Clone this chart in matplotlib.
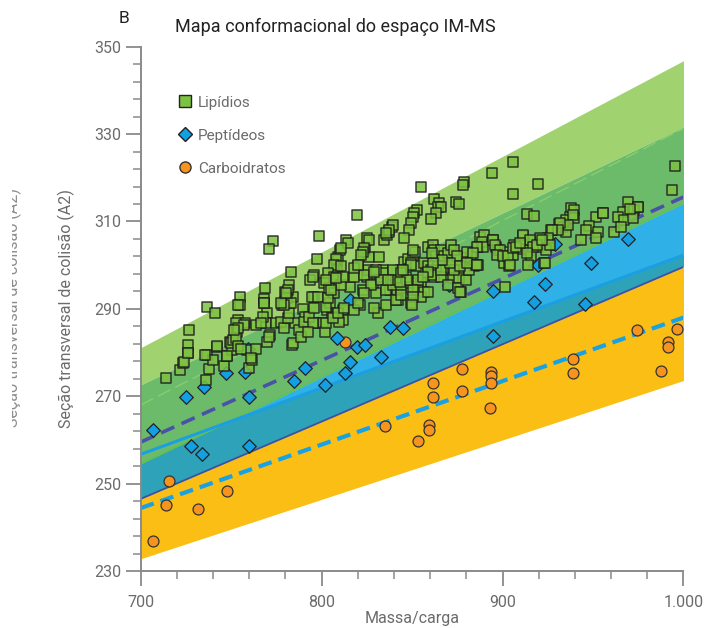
import matplotlib
matplotlib.use("Agg")
import matplotlib.pyplot as plt
from matplotlib.lines import Line2D
from matplotlib.patches import Rectangle
import numpy as np

plt.rcParams["font.family"] = ["Roboto", "DejaVu Sans"]

# ---------------------------------------------------------------------------
# Dados
# ---------------------------------------------------------------------------
lipidios = [
    (773.0, 305.5), (771.1, 303.7), (798.7, 306.7), (797.3, 301.4), (783.1, 298.4),
    (795.6, 297.7), (793.8, 296.6), (782.1, 295.5), (779.8, 293.9), (768.9, 294.7),
    (755.1, 292.6), (768.0, 292.2), (784.0, 292.6), (795.8, 292.8), (714.0, 274.1),
    (721.7, 276.0), (723.5, 277.7), (726.0, 281.7), (726.0, 280.0), (726.9, 285.2),
    (736.1, 273.6), (737.9, 276.2), (736.5, 279.4), (740.1, 278.3), (742.0, 281.2),
    (736.8, 290.5), (741.1, 289.0), (746.2, 276.9), (747.5, 279.1), (749.4, 282.3),
    (750.3, 280.6), (753.1, 284.8), (753.6, 287.5), (754.9, 290.9), (757.7, 286.7),
    (758.9, 280.6), (760.0, 276.4), (761.7, 278.3), (763.7, 280.8), (768.2, 291.4),
    (770.0, 289.1), (769.3, 286.7), (771.5, 284.0), (770.0, 282.5), (777.9, 290.9),
    (779.8, 291.6), (781.6, 294.3), (780.7, 292.4), (783.8, 281.7), (785.3, 286.7),
    (787.7, 285.2), (789.5, 289.9), (790.8, 288.2), (794.5, 292.8), (795.0, 297.4),
    (796.4, 286.7), (801.0, 286.7), (801.9, 284.8), (802.8, 289.7), (804.6, 291.3),
    (805.6, 288.2), (806.5, 293.9), (806.9, 295.8), (808.3, 298.9), (808.7, 301.2),
    (809.2, 301.9), (810.2, 303.5), (812.0, 289.7), (812.0, 287.5), (809.8, 287.1),
    (813.5, 305.8), (814.4, 305.1), (815.7, 295.1), (819.4, 311.5), (821.2, 290.9),
    (823.0, 294.3), (824.9, 297.4), (825.8, 298.9), (825.3, 306.2), (824.0, 303.5),
    (826.4, 301.9), (828.6, 295.8), (830.1, 293.6), (831.3, 289.0), (832.3, 297.4),
    (834.1, 298.9), (831.9, 301.9), (834.5, 305.8), (836.0, 306.9), (837.4, 307.7),
    (838.7, 308.8), (837.8, 294.3), (839.6, 296.6), (840.6, 294.7), (841.5, 293.6),
    (842.4, 292.0), (854.9, 318.0), (894.0, 321.0), (878.9, 319.1), (878.0, 318.4),
    (862.3, 315.1), (865.1, 314.2), (864.2, 313.4), (866.0, 313.3), (874.3, 314.5),
    (876.1, 314.0), (852.7, 312.6), (851.2, 311.9), (850.3, 311.1), (863.2, 311.9),
    (860.4, 310.5), (849.4, 309.6), (848.5, 308.1), (845.7, 306.2), (839.3, 309.2),
    (837.5, 308.1), (835.6, 307.3), (826.4, 305.8), (810.7, 303.9), (808.0, 301.4),
    (807.0, 300.1), (823.6, 303.9), (822.7, 303.1), (821.8, 302.3), (820.3, 299.7),
    (818.1, 297.4), (823.6, 297.8), (833.8, 298.1), (845.7, 300.8), (847.9, 301.3),
    (850.4, 301.8), (851.8, 303.1), (850.4, 303.5), (849.4, 300.4), (852.2, 299.7),
    (858.6, 304.2), (861.4, 304.6), (862.3, 303.5), (863.2, 302.0), (856.8, 300.4),
    (858.6, 299.7), (860.5, 299.0), (866.0, 303.5), (867.8, 302.0), (869.7, 302.7),
    (871.5, 304.6), (873.4, 303.5), (868.8, 299.0), (872.5, 299.0), (876.2, 299.0),
    (879.8, 301.6), (882.6, 301.8), (884.4, 299.7), (886.3, 300.0), (886.3, 304.2),
    (887.7, 306.5), (889.9, 306.9), (894.6, 305.8), (896.4, 304.2), (897.3, 303.5),
    (862.3, 297.4), (866.0, 297.4), (872.5, 297.0), (876.1, 297.0), (869.7, 295.5),
    (875.2, 294.7), (879.8, 296.6), (803.4, 298.1), (807.0, 297.4), (801.5, 295.9),
    (804.3, 294.7), (807.0, 293.6), (810.7, 295.5), (811.7, 297.4), (818.1, 299.3),
    (827.3, 295.5), (830.0, 298.9), (832.8, 296.6), (835.6, 294.4), (839.3, 295.5),
    (841.1, 296.6), (843.9, 294.7), (849.4, 295.9), (854.9, 295.9), (853.1, 294.4),
    (856.8, 293.9), (846.6, 297.4), (843.9, 298.9), (839.3, 298.9), (906.0, 323.5),
    (906.0, 316.3), (919.8, 318.6), (995.4, 322.7), (993.7, 317.2), (913.5, 311.7),
    (917.6, 311.3), (937.9, 313.0), (939.7, 312.6), (937.0, 311.1), (935.1, 310.3),
    (939.7, 310.7), (931.4, 309.4), (933.3, 308.8), (935.1, 307.7), (951.7, 311.1),
    (955.4, 311.9), (948.0, 309.0), (946.2, 308.1), (952.6, 307.7), (951.7, 306.2),
    (943.4, 305.8), (926.8, 308.1), (922.2, 305.9), (919.4, 304.2), (925.9, 304.6),
    (969.2, 314.5), (974.7, 313.4), (972.9, 312.6), (966.5, 312.2), (963.7, 311.1),
    (967.3, 310.3), (972.0, 310.7), (961.8, 307.7), (965.5, 308.8), (911.2, 306.7),
    (912.1, 305.0), (906.5, 304.6), (910.2, 303.6), (902.9, 303.1), (905.6, 302.3),
    (914.8, 303.5), (915.7, 302.1), (924.0, 303.4), (923.0, 300.5), (913.8, 300.1),
    (901.0, 300.5), (903.8, 299.7), (724.1, 277.9), (726.0, 279.8), (735.7, 279.4),
    (742.2, 281.4), (747.7, 279.2), (749.9, 282.1), (750.9, 282.9), (752.7, 283.3),
    (753.6, 281.5), (755.4, 280.8), (761.0, 278.7), (752.7, 286.7), (757.3, 286.3),
    (753.6, 285.6), (751.7, 285.2), (753.6, 290.9), (768.3, 291.3), (767.4, 288.2),
    (763.7, 286.3), (766.5, 286.7), (771.1, 283.6), (774.8, 286.7), (777.6, 287.1),
    (779.4, 285.6), (781.3, 287.8), (782.1, 289.0), (783.1, 291.3), (779.4, 290.9),
    (777.6, 291.3), (780.3, 293.6), (784.0, 282.1), (788.6, 283.6), (790.4, 287.1),
    (793.2, 288.2), (795.1, 286.7), (792.3, 284.8), (796.0, 290.1), (797.8, 292.8),
    (802.4, 286.7), (806.1, 287.8), (808.9, 289.0), (812.6, 290.1), (802.4, 290.5),
    (803.4, 292.4), (805.2, 294.3), (802.4, 296.6), (808.0, 297.0), (818.1, 289.7),
    (820.0, 291.3), (823.6, 293.6), (829.1, 290.1), (835.6, 290.9), (841.1, 292.0),
    (843.9, 293.2), (849.4, 291.3), (854.9, 292.8), (858.6, 293.9), (810.7, 299.7),
    (820.0, 300.0), (829.1, 298.5), (836.5, 296.6), (843.9, 298.1), (849.4, 300.0),
    (853.1, 296.6), (860.5, 297.8), (866.0, 298.9), (873.4, 298.9), (877.1, 293.9),
    (881.6, 298.9), (885.4, 300.0), (975.1, 313.4), (970.5, 312.8), (955.7, 311.9),
    (939.1, 311.5), (936.4, 309.2), (931.8, 309.6), (930.9, 308.1), (927.2, 308.1),
    (925.3, 306.2), (920.7, 306.2), (926.3, 304.6), (923.5, 300.4), (911.5, 306.9),
    (915.2, 305.8), (917.0, 304.2), (918.9, 304.6), (921.7, 305.8), (913.3, 302.8),
    (901.4, 294.9), (888.5, 305.4), (889.4, 304.2), (885.7, 304.2), (894.9, 305.8),
    (895.8, 304.6), (898.6, 303.5), (896.7, 302.4), (900.4, 302.0), (903.1, 302.0),
    (904.0, 300.1), (905.9, 303.9), (907.7, 304.2), (909.6, 305.0), (880.2, 303.1),
    (883.9, 302.7), (874.7, 302.0), (871.0, 300.4), (876.6, 299.7), (880.2, 300.4),
    (885.8, 300.0), (876.6, 293.9), (866.4, 301.2), (861.8, 300.4), (860.9, 302.7),
    (859.0, 298.5), (856.2, 297.4), (850.7, 294.4), (847.0, 296.6), (845.2, 298.9),
    (843.4, 296.2), (850.7, 292.8), (849.8, 290.9),
]

peptideos = [
    (707.0, 262.3), (724.9, 269.9), (727.8, 258.7), (733.7, 256.8), (735.0, 272.1),
    (747.1, 275.3), (757.7, 275.6), (759.5, 280.7), (759.9, 269.9), (759.9, 258.6),
    (784.8, 273.4), (790.9, 276.5), (801.9, 272.6), (808.6, 283.4), (813.0, 275.3),
    (815.8, 277.9), (815.9, 292.0), (819.7, 281.3), (824.1, 281.7), (833.0, 279.0),
    (837.8, 285.8), (844.9, 285.6), (870.6, 295.5), (894.9, 294.2), (894.8, 283.8),
    (917.6, 291.6), (919.4, 300.0), (923.7, 295.6), (929.0, 304.8), (945.6, 291.1),
    (948.7, 300.5), (969.5, 305.9),
]

carboidratos = [
    (706.6, 236.9), (713.8, 245.1), (715.8, 250.5), (731.8, 244.1), (747.5, 248.3),
    (813.0, 282.3), (835.1, 263.1), (853.3, 259.8), (859.4, 263.5), (859.4, 262.2),
    (861.8, 273.0), (861.8, 269.9), (877.6, 276.2), (877.6, 271.3), (893.5, 275.6),
    (893.5, 274.6), (893.5, 273.0), (893.2, 267.3), (939.2, 278.5), (939.2, 275.3),
    (974.5, 285.2), (996.3, 285.5), (991.6, 282.3), (991.6, 281.2), (987.4, 275.7),
]

# Faixas (valores nas extremidades m/z = 700 e 1000)
faixa_x = [700, 1000]
lip_topo = [281.1, 346.8]
lip_meio = [272.6, 331.6]
lip_base = [254.5, 314.2]
lip_centro = [268.0, 331.3]
pep_linha = [256.7, 302.3]
pep_base = [246.5, 299.6]
carb_base = [232.8, 273.6]

# Retas de tendência
tend_lipidios = [259.5, 315.6]
tend_carboidratos = [244.4, 288.0]

# ---------------------------------------------------------------------------
# Figura
# ---------------------------------------------------------------------------
fig = plt.figure(figsize=(7.11, 6.28), dpi=100)
ax = fig.add_axes([0.1979, 0.0908, 0.7634, 0.8348])

cinza = "#6b6b6b"

ax.fill_between(faixa_x, pep_base, lip_base, color="#2fb0e6", lw=0, zorder=1)
ax.fill_between(faixa_x, pep_base, pep_linha, color="#2ea2b8", lw=0, zorder=1.1)
ax.fill_between(faixa_x, lip_meio, lip_topo, color="#a0d36f", lw=0, zorder=1.2)
ax.fill_between(faixa_x, lip_base, lip_meio, color="#6cbb6a", lw=0, zorder=1.3)
ax.fill_between(faixa_x, carb_base, pep_base, color="#fbbe14", lw=0, zorder=1.4)

ax.plot(faixa_x, lip_centro, color="#86cf6e", lw=1.0, dashes=(10, 4), zorder=2)
ax.plot(faixa_x, lip_base, color="#62c04f", lw=1.2, zorder=2)
ax.plot(faixa_x, pep_linha, color="#1aa0e2", lw=2.2, zorder=2.1)
ax.plot(faixa_x, pep_base, color="#3f4fa3", lw=1.3, zorder=2.1)
ax.plot(faixa_x, tend_lipidios, color="#4a52a8", lw=2.6, dashes=(4, 2.2), zorder=2.2)
ax.plot(faixa_x, tend_carboidratos, color="#18a2e3", lw=3.0, dashes=(3.3, 1.7), zorder=2.2)

cx, cy = zip(*carboidratos)
px, py = zip(*peptideos)
lx, ly = zip(*lipidios)
ax.scatter(cx, cy, s=62, marker="o", facecolor="#f7941d", edgecolor="#333333",
           linewidth=0.9, zorder=3)
ax.scatter(px, py, s=48, marker="D", facecolor="#139fe0", edgecolor="#222222",
           linewidth=0.9, zorder=3.1)
ax.scatter(lx, ly, s=60, marker="s", facecolor="#7dc242", edgecolor="#1c1c1c",
           linewidth=1.1, alpha=0.85, zorder=3.2)

# Legenda
handles = [
    Line2D([], [], ls="none", marker="s", ms=8, mfc="#7dc242", mec="#222222", mew=1.0),
    Line2D([], [], ls="none", marker="D", ms=7, mfc="#139fe0", mec="#222222", mew=1.0),
    Line2D([], [], ls="none", marker="o", ms=8, mfc="#f7941d", mec="#333333", mew=1.0),
]
leg = ax.legend(handles, ["Lipídios", "Peptídeos", "Carboidratos"],
                loc="upper left", bbox_to_anchor=(0.042, 0.933), frameon=False,
                fontsize=11, labelspacing=1.25, handlelength=1.0, handletextpad=0.35)
for t in leg.get_texts():
    t.set_color(cinza)

# Eixos
ax.set_xlim(700, 1000)
ax.set_ylim(230, 350)
ax.set_xticks([700, 800, 900, 1000])
ax.set_xticklabels(["700", "800", "900", "1.000"])
ax.set_xticks(np.arange(700, 1001, 20), minor=True)
ax.set_yticks(np.arange(230, 351, 20))
ax.set_yticks(np.arange(230, 351, 4), minor=True)
for lado in ["top", "right"]:
    ax.spines[lado].set_visible(False)
for lado in ["left", "bottom"]:
    ax.spines[lado].set_color("#8a8a8a")
    ax.spines[lado].set_linewidth(1.4)
ax.tick_params(which="major", direction="out", length=11, width=1.3,
               color="#8a8a8a", labelcolor=cinza, labelsize=11.5, pad=3)
ax.tick_params(axis="x", which="major", pad=6)
ax.tick_params(which="minor", direction="out", length=6, width=1.1, color="#8a8a8a")

ax.set_xlabel("Massa/carga", color=cinza, fontsize=11.5, labelpad=1)
ax.set_ylabel("Seção transversal de colisão (A2)", color=cinza, fontsize=11.5, labelpad=14)

# rótulo repetido à esquerda, cortado pela margem
fig.text(0.0185, 0.51, "Seção transversal de colisão (A2)", rotation=90,
         ha="center", va="center", color="#8c8c8c", fontsize=11.5)
fig.add_artist(Rectangle((0, 0), 11.5 / 711, 1, transform=fig.transFigure,
                         facecolor="white", edgecolor="none", zorder=10))

fig.text(0.175, 0.971, "B", ha="center", va="center", color="#222222", fontsize=12.5)
fig.text(0.472, 0.957, "Mapa conformacional do espaço IM-MS", ha="center",
         va="center", color="#222222", fontsize=13)

fig.savefig("out.png", dpi=100)
